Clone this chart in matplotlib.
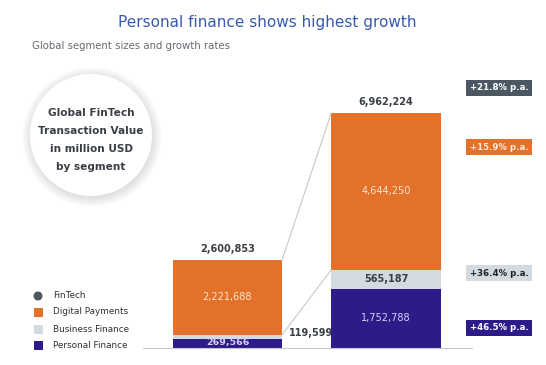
import matplotlib.pyplot as plt
import numpy as np
from matplotlib.patches import Circle, Rectangle

# data
years = ["2017", "2022"]
personal = [269566, 1752788]
business = [119599, 565187]
digital = [2221688, 4644250]
totals = [2600853, 6962224]
growth_labels = ["+21.8% p.a.", "+15.9% p.a.", "+36.4% p.a.", "+46.5% p.a."]
legend_labels = ["FinTech", "Digital Payments", "Business Finance", "Personal Finance"]

C_FINTECH = "#4b5863"
C_DIGITAL = "#e2712a"
C_BUSINESS = "#d3dae0"
C_PERSONAL = "#2e1b8a"
C_TEXT = "#3a3f45"

W, H = 546, 365
fig = plt.figure(figsize=(W / 100, H / 100), dpi=100)
fig.patch.set_facecolor("white")


def fx(px):
    return px / W


def fy(py):
    return 1 - py / H


fig.text(fx(267), fy(22), "Personal finance shows highest growth", ha="center", va="center",
         fontsize=11, color="#3a5aae")
fig.text(fx(32), fy(46), "Global segment sizes and growth rates", ha="left", va="center",
         fontsize=7.3, color="#666a70")

# bars
ax = fig.add_axes([fx(143), fy(348), fx(472) - fx(143), fy(60) - fy(348)])
x = np.arange(len(years))
width = 0.69
p = np.array(personal)
b = np.array(business)
d = np.array(digital)
ax.bar(x, p, width, color=C_PERSONAL)
ax.bar(x, b, width, bottom=p, color=C_BUSINESS)
ax.bar(x, d, width, bottom=p + b, color=C_DIGITAL)
ax.set_xlim(-0.533, 1.543)
ax.set_ylim(0, 8.53e6)
for s in ["top", "right", "left"]:
    ax.spines[s].set_visible(False)
ax.spines["bottom"].set_color("#c5c8cc")
ax.spines["bottom"].set_linewidth(0.8)
ax.set_xticks([])
ax.set_yticks([])

# connector lines
tops = p + b + d
ax.plot([x[0] + width / 2, x[1] - width / 2], [tops[0], tops[1]], color="#c9c9c9", lw=0.8)
ax.plot([x[0] + width / 2, x[1] - width / 2], [(p + b)[0], (p + b)[1]], color="#c9c9c9", lw=0.8)

for i in range(len(years)):
    ax.text(x[i], tops[i] + 1.7e5, f"{totals[i]:,}", ha="center", va="bottom", fontsize=7,
            fontweight="bold", color=C_TEXT)
    ax.text(x[i], p[i] + b[i] + d[i] / 2, f"{digital[i]:,}", ha="center", va="center",
            fontsize=7, color="#fbe3d2")
ax.text(x[0], p[0] / 2 + 0.2e5, f"{personal[0]:,}", ha="center", va="center", fontsize=6.8,
        color="#d9d0f5", fontweight="bold")
ax.text(x[1], p[1] / 2, f"{personal[1]:,}", ha="center", va="center", fontsize=7,
        color="#d9d0f5")
ax.text(x[1], p[1] + b[1] / 2, f"{business[1]:,}", ha="center", va="center", fontsize=7,
        fontweight="bold", color=C_TEXT)
ax.text(x[0] + width / 2 + 0.04, p[0] + b[0] / 2 + 1.1e5, f"{business[0]:,}", ha="left",
        va="center", fontsize=7, fontweight="bold", color=C_TEXT)

# growth badges
badge_y = [88, 147, 273, 328]
badge_fc = [C_FINTECH, C_DIGITAL, C_BUSINESS, C_PERSONAL]
badge_tc = ["white", "#fde9da", "#1e2226", "white"]
for lab, yy, fc, tc in zip(growth_labels, badge_y, badge_fc, badge_tc):
    fig.text(fx(499), fy(yy), lab, ha="center", va="center", fontsize=6.2, fontweight="bold",
             color=tc, bbox=dict(boxstyle="square,pad=0.45", fc=fc, ec="none"))

# circle with soft shadow
cax = fig.add_axes([fx(91 - 75), fy(135 + 75), 150 / W, 150 / H])
cax.set_xlim(-75, 75)
cax.set_ylim(-75, 75)
cax.set_aspect("equal")
cax.axis("off")
for r in np.linspace(70, 61, 10):
    cax.add_patch(Circle((1, -2), r, color="#000000", alpha=0.01, lw=0))
cax.add_patch(Circle((0, 0), 61, color="white", lw=0))
circle_lines = ["Global FinTech", "Transaction Value", "in million USD", "by segment"]
for k, line in enumerate(circle_lines):
    cax.text(0, 22 - k * 18, line, ha="center", va="center", fontsize=7.6, color=C_TEXT,
             fontweight="semibold")

# legend
leg_y = [296, 312, 329, 345]
lax = fig.add_axes([0, 0, 1, 1])
lax.set_xlim(0, W)
lax.set_ylim(H, 0)
lax.axis("off")
lax.add_patch(Circle((38, leg_y[0]), 4.5, color=C_FINTECH, lw=0))
for yy, c in zip(leg_y[1:], [C_DIGITAL, C_BUSINESS, C_PERSONAL]):
    lax.add_patch(Rectangle((33.5, yy - 4.5), 9, 9, color=c, lw=0))
for yy, lab in zip(leg_y, legend_labels):
    lax.text(53, yy, lab, ha="left", va="center", fontsize=6.4, color="#2e3236")

fig.savefig("out.png", dpi=100, facecolor="white")
